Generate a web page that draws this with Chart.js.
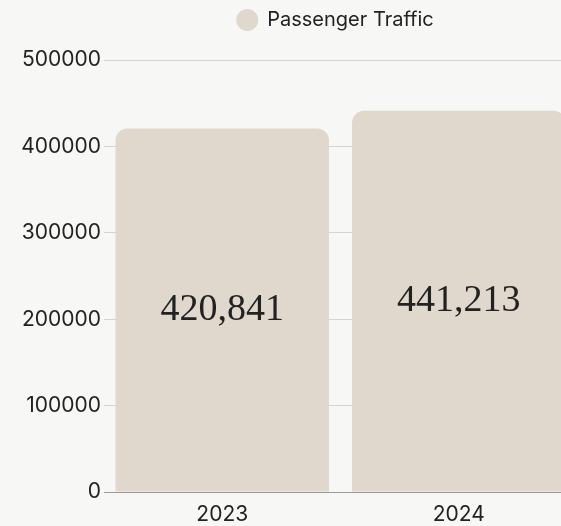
<!DOCTYPE html>
<html>
<head>
<meta charset="utf-8">
<script src="https://cdn.jsdelivr.net/npm/chart.js@4.4.1/dist/chart.umd.min.js"></script>
<style>
  html, body { margin: 0; padding: 0; background: #f7f7f5; overflow: hidden; }
  #wrap { width: 671px; height: 526px; position: relative; }
</style>
</head>
<body>
<div id="wrap"><canvas id="grafico"></canvas></div>
<script>
const anos = ['2023', '2024'];
const passageiros = [420841, 441213];
const serieNome = 'Passenger Traffic';
const passoY = 100000;
const maxY = 500000;

// escreve o valor no meio de cada barra
const valorNaBarra = {
  id: 'valorNaBarra',
  afterDatasetsDraw(chart) {
    const ctx = chart.ctx;
    const meta = chart.getDatasetMeta(0);
    ctx.save();
    ctx.font = '38px "Liberation Serif"';
    ctx.fillStyle = '#222';
    ctx.textAlign = 'center';
    ctx.textBaseline = 'middle';
    meta.data.forEach((bar, i) => {
      const meio = (bar.y + bar.base) / 2;
      ctx.fillText(passageiros[i].toLocaleString('en-US'), bar.x, meio);
    });
    ctx.restore();
  }
};

// um pouco de espaco abaixo da legenda
const espacoLegenda = {
  id: 'espacoLegenda',
  beforeInit(chart) {
    const fitOriginal = chart.legend.fit;
    chart.legend.fit = function () {
      fitOriginal.call(this);
      this.height += 20;
    };
  }
};

Chart.defaults.font.family = 'Inter';
Chart.defaults.color = '#222';

const ctx = document.getElementById('grafico').getContext('2d');
new Chart(ctx, {
  type: 'bar',
  data: {
    labels: anos,
    datasets: [{
      label: serieNome,
      data: passageiros,
      backgroundColor: '#e0d7cd',
      borderRadius: 12,
      barPercentage: 0.95,
      categoryPercentage: 0.95
    }]
  },
  options: {
    responsive: true,
    maintainAspectRatio: false,
    animation: false,
    plugins: {
      legend: {
        position: 'top',
        labels: {
          usePointStyle: true,
          pointStyle: 'circle',
          boxHeight: 15.5,
          font: { size: 20 },
          color: '#222'
        }
      },
      tooltip: { enabled: false }
    },
    scales: {
      x: {
        grid: { display: false },
        border: { display: false },
        ticks: { font: { size: 21 }, padding: 2 },
        afterFit(s) { s.height = 34; }
      },
      y: {
        min: 0,
        max: maxY,
        border: { display: false },
        grid: {
          drawTicks: false,
          color: (c) => c.tick && c.tick.value === 0 ? '#9a9a9a' : '#d4d4d4'
        },
        ticks: { font: { size: 21 }, padding: 3, stepSize: passoY, callback: (v) => String(v) },
        afterFit(s) { s.width = 104; }
      },
      lado: {
        position: 'right',
        display: true,
        grid: { display: false },
        border: { display: false },
        ticks: { display: false },
        afterFit(s) { s.width = 94; }
      }
    }
  },
  plugins: [valorNaBarra, espacoLegenda]
});
</script>
</body>
</html>
